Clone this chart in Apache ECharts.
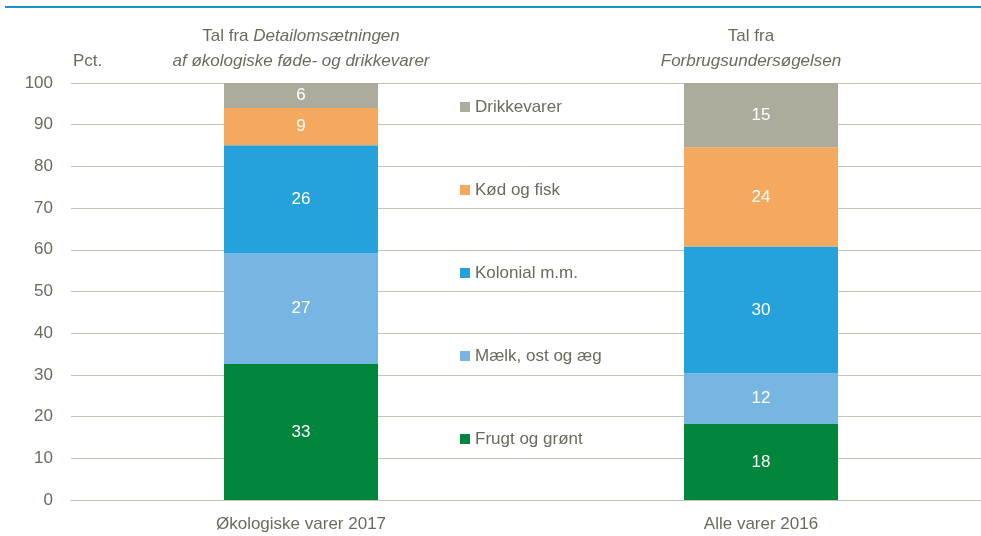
<!DOCTYPE html>
<html>
<head>
<meta charset="utf-8">
<script src="https://cdn.jsdelivr.net/npm/echarts@6/dist/echarts.min.js"></script>
<style>
  html, body { margin: 0; padding: 0; background: #fff; }
  #chart { width: 981px; height: 536px; }
</style>
</head>
<body>
<div id="chart"></div>
<script>
var categories = ['Økologiske varer 2017', 'Alle varer 2016'];
var seriesNames = ['Frugt og grønt', 'Mælk, ost og æg', 'Kolonial m.m.', 'Kød og fisk', 'Drikkevarer'];
// andele i pct. (aflæst), nederst -> øverst
var frugt = [32.6, 18.2];
var maelk = [26.5, 12.2];
var kolonial = [26.0, 30.4];
var koed = [8.9, 23.8];
var drikke = [6.0, 15.4];
var yTicks = [0, 10, 20, 30, 40, 50, 60, 70, 80, 90, 100];

var colors = ['#00853d', '#77b5e3', '#25a1dc', '#f5a95f', '#adab9c'];
var txt = '#6b6b5d';
var font = '"Liberation Sans", Arial, sans-serif';

function bar(name, data, i) {
    return {
        name: name,
        type: 'bar',
        stack: 'total',
        barWidth: 154,
        data: data,
        itemStyle: { color: colors[i] },
        label: {
            show: true,
            position: 'inside',
            color: '#fff',
            fontFamily: font,
            fontSize: 17,
            formatter: function (p) { return Math.round(p.value); }
        }
    };
}

var chart = echarts.init(document.getElementById('chart'));
chart.setOption({
    animation: false,
    textStyle: { fontFamily: font },
    graphic: [{
        type: 'rect',
        shape: { x: 5, y: 6, width: 976, height: 2 },
        style: { fill: '#1a8fd0' }
    }, {
        type: 'text',
        left: 73, top: 53,
        style: { text: 'Pct.', fill: txt, font: '17px ' + font }
    }],
    title: [{
        left: 296, top: 19, textAlign: 'center',
        text: 'Tal fra {i|Detailomsætningen}\n{i|af økologiske føde- og drikkevarer}',
        textStyle: {
            fontWeight: 'normal', fontSize: 17, color: txt, lineHeight: 25, fontFamily: font,
            rich: { i: { fontStyle: 'italic', fontSize: 17, color: txt, fontFamily: font, lineHeight: 25 } }
        }
    }, {
        left: 746, top: 19, textAlign: 'center',
        text: 'Tal fra\n{i|Forbrugsundersøgelsen}',
        textStyle: {
            fontWeight: 'normal', fontSize: 17, color: txt, lineHeight: 25, fontFamily: font,
            rich: { i: { fontStyle: 'italic', fontSize: 17, color: txt, fontFamily: font, lineHeight: 25 } }
        }
    }],
    legend: {
        orient: 'vertical',
        left: 455,
        top: 92,
        itemWidth: 10,
        itemHeight: 10,
        itemGap: 63,
        icon: 'rect',
        data: seriesNames.slice().reverse(),
        textStyle: { color: txt, fontSize: 17, lineHeight: 20, fontFamily: font }
    },
    grid: { left: 71, right: -10, top: 83, bottom: 36, containLabel: false, outerBoundsMode: 'none' },
    xAxis: {
        type: 'category',
        data: categories,
        axisLine: { show: true, lineStyle: { color: '#c4c3b6', width: 1 } },
        axisTick: { show: false },
        axisLabel: { color: txt, fontSize: 17, margin: 16, fontFamily: font }
    },
    yAxis: {
        type: 'value',
        min: yTicks[0],
        max: yTicks[yTicks.length - 1],
        interval: yTicks[1] - yTicks[0],
        axisLine: { show: false },
        axisTick: { show: false },
        axisLabel: { color: txt, fontSize: 17, margin: 18, fontFamily: font },
        splitLine: { lineStyle: { color: '#c4c3b6', width: 1 } }
    },
    series: [
        bar(seriesNames[0], frugt, 0),
        bar(seriesNames[1], maelk, 1),
        bar(seriesNames[2], kolonial, 2),
        bar(seriesNames[3], koed, 3),
        bar(seriesNames[4], drikke, 4)
    ]
});
window.addEventListener('resize', function () {
    chart.resize();
});
</script>
</body>
</html>
